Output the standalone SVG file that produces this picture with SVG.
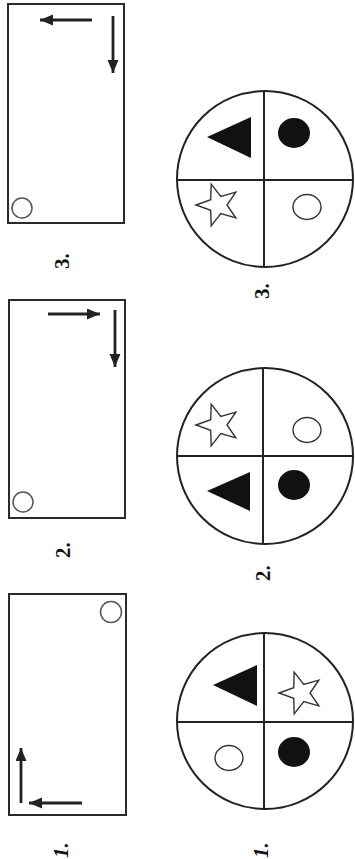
<svg xmlns="http://www.w3.org/2000/svg" width="355" height="859" viewBox="0 0 355 859">
<defs>
<marker id="ah" markerUnits="userSpaceOnUse" markerWidth="16" markerHeight="14" refX="13" refY="5.5" orient="auto">
<path d="M0,0 L13,5.5 L0,11 Z" fill="#222"/>
</marker>
<polygon id="star" points="-22,0 -7.3,-5.3 -6.8,-20.9 2.8,-8.6 17.8,-12.9 9,0 17.8,12.9 2.8,8.6 -6.8,20.9 -7.3,5.3"/>
</defs>
<style>
.frame{fill:none;stroke:#2a2a2a;stroke-width:2}
.arr{stroke:#222;stroke-width:2.8;fill:none;marker-end:url(#ah)}
.ring{fill:none;stroke:#555;stroke-width:1.5}
.disc{fill:none;stroke:#222;stroke-width:2}
.div{stroke:#222;stroke-width:2}
.solid{fill:#111}
.hollow{fill:none;stroke:#333;stroke-width:1.4}
.lbl{font-family:"Liberation Serif",serif;font-size:21px;font-weight:bold;fill:#111}
</style>
<rect width="355" height="859" fill="#fff"/>

<g id="rect3">
<rect class="frame" x="8" y="4" width="116" height="219"/>
<circle class="ring" cx="22" cy="208" r="10"/>
</g>
<g id="rect2">
<rect class="frame" x="9" y="300" width="116" height="218"/>
<circle class="ring" cx="23" cy="502" r="10"/>
</g>
<g id="rect1">
<rect class="frame" x="9" y="594" width="117" height="221"/>
<circle class="ring" cx="111" cy="612" r="10.5"/>
</g>

<g id="connectors">
<line class="arr" x1="92" y1="20" x2="40" y2="20"/>
<line class="arr" x1="113" y1="16" x2="113" y2="73"/>
<line class="arr" x1="48" y1="314" x2="100" y2="314"/>
<line class="arr" x1="115" y1="310" x2="115" y2="367"/>
<line class="arr" x1="21" y1="803" x2="21" y2="748"/>
<line class="arr" x1="82" y1="803" x2="29" y2="803"/>
</g>

<g id="disc3">
<circle class="disc" cx="265" cy="179" r="88"/>
<line class="div" x1="264" y1="91" x2="264" y2="267"/>
<line class="div" x1="177" y1="180" x2="353" y2="180"/>
<polygon class="solid" points="207,137 251,117 251,158"/>
<ellipse class="solid" cx="294" cy="133" rx="16" ry="15"/>
<use href="#star" class="hollow" transform="translate(218,205)"/>
<ellipse class="hollow" cx="307" cy="207" rx="14" ry="12.5"/>
</g>
<g id="disc2">
<circle class="disc" cx="265" cy="456" r="88"/>
<line class="div" x1="263" y1="368" x2="263" y2="544"/>
<line class="div" x1="177" y1="456" x2="353" y2="456"/>
<use href="#star" class="hollow" transform="translate(218,425)"/>
<ellipse class="hollow" cx="307" cy="430" rx="14" ry="12.5"/>
<polygon class="solid" points="207,491 250,472 250,511"/>
<ellipse class="solid" cx="294" cy="485" rx="16" ry="15"/>
</g>
<g id="disc1">
<circle class="disc" cx="265" cy="721" r="88"/>
<line class="div" x1="264" y1="633" x2="264" y2="809"/>
<line class="div" x1="177" y1="722" x2="353" y2="722"/>
<polygon class="solid" points="213,685 257,665 257,706"/>
<use href="#star" class="hollow" transform="translate(301,693)"/>
<ellipse class="hollow" cx="229" cy="758" rx="14" ry="12.5"/>
<ellipse class="solid" cx="294" cy="752" rx="16" ry="15"/>
</g>

<g id="labels">
<text class="lbl" transform="translate(69,269) rotate(-90)">3.</text>
<text class="lbl" transform="translate(70,558) rotate(-90)">2.</text>
<text class="lbl" font-style="italic" transform="translate(68,858) rotate(-90)">1.</text>
<text class="lbl" transform="translate(269,299) rotate(-90)">3.</text>
<text class="lbl" transform="translate(270,581) rotate(-90)">2.</text>
<text class="lbl" font-style="italic" transform="translate(268,858) rotate(-90)">1.</text>
</g>
</svg>
